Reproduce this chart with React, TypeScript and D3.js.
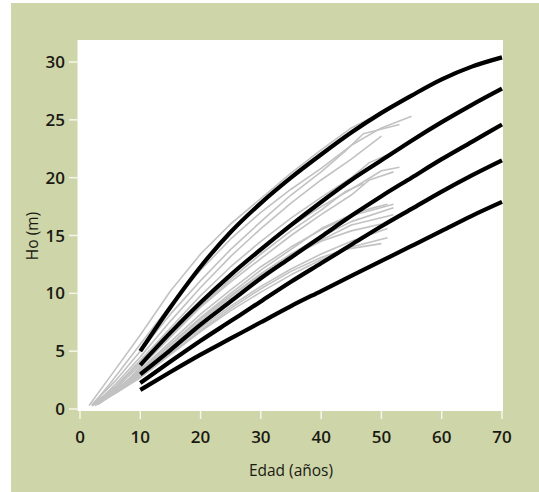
import React from "react";
import * as d3 from "d3";

const xTicks = [0, 10, 20, 30, 40, 50, 60, 70];
const yTicks = [0, 5, 10, 15, 20, 25, 30];

// Site index curves (black), heights at ages 10..70 every 5 years
const curveAges = [10, 15, 20, 25, 30, 35, 40, 45, 50, 55, 60, 65, 70];
const curve1 = [5.0, 8.8, 12.3, 15.3, 17.8, 20.0, 22.0, 23.9, 25.6, 27.1, 28.5, 29.6, 30.4];
const curve2 = [3.8, 6.6, 9.2, 11.6, 13.8, 15.9, 17.9, 19.8, 21.5, 23.2, 24.8, 26.3, 27.7];
const curve3 = [3.0, 5.1, 7.3, 9.3, 11.3, 13.1, 14.9, 16.7, 18.4, 20.0, 21.6, 23.1, 24.6];
const curve4 = [2.25, 4.1, 5.9, 7.6, 9.3, 11.0, 12.6, 14.2, 15.8, 17.3, 18.8, 20.2, 21.5];
const curve5 = [1.65, 3.2, 4.7, 6.1, 7.5, 8.9, 10.2, 11.5, 12.8, 14.1, 15.4, 16.7, 17.9];
const curves = [curve1, curve2, curve3, curve4, curve5];

// Observed stem analysis series (grey), [age, height]
const stemA1 = [[1.5, 0.3], [5, 2.8], [10, 6.4], [15, 10.2], [20, 13.4], [25, 16.0], [30, 18.2], [35, 20.4], [40, 22.4], [45, 24.3], [48, 25.1]];
const stemA2 = [[2, 0.3], [5, 2.2], [10, 5.6], [15, 9.0], [20, 12.0], [25, 14.7], [30, 17.0], [35, 19.0], [40, 20.8], [45, 22.8], [50, 24.3], [55, 25.3]];
const stemA3 = [[2, 0.4], [6, 2.5], [10, 5.0], [15, 8.2], [20, 11.1], [25, 13.8], [30, 16.2], [35, 18.5], [40, 20.5], [44, 22.3], [47, 23.8], [53, 24.6]];
const stemA4 = [[2.5, 0.4], [6, 2.2], [10, 4.5], [15, 7.6], [20, 10.5], [25, 13.2], [30, 15.6], [35, 17.8], [40, 19.8], [45, 21.6], [50, 23.6]];
const stemB1 = [[2, 0.3], [6, 2.0], [10, 4.2], [15, 7.0], [20, 9.8], [25, 12.3], [30, 14.5], [35, 16.5], [40, 18.3], [45, 20.0], [48, 21.3], [52, 22.2]];
const stemB2 = [[2, 0.4], [6, 1.9], [10, 4.0], [15, 6.6], [20, 9.2], [25, 11.6], [30, 13.8], [35, 15.8], [40, 17.5], [45, 19.0], [50, 20.6], [53, 20.9]];
const stemB3 = [[3, 0.4], [7, 2.0], [10, 3.6], [15, 6.2], [20, 8.8], [25, 11.0], [30, 13.0], [35, 15.0], [40, 16.8], [45, 18.5], [48, 19.8], [52, 20.5]];
const stemB4 = [[2, 0.3], [6, 1.8], [10, 3.8], [15, 6.4], [20, 8.9], [25, 11.2], [30, 13.4], [35, 15.4], [40, 17.2], [44, 18.8], [47, 19.5]];
const stemC1 = [[2, 0.3], [6, 1.7], [10, 3.4], [15, 5.8], [20, 8.2], [25, 10.3], [30, 12.3], [35, 14.0], [40, 15.5], [45, 16.7], [52, 17.7]];
const stemC2 = [[2.5, 0.4], [6, 1.6], [10, 3.2], [15, 5.5], [20, 7.8], [25, 9.8], [30, 11.7], [35, 13.4], [40, 14.9], [45, 16.2], [52, 17.4]];
const stemC3 = [[2, 0.3], [6, 1.6], [10, 3.3], [15, 5.6], [20, 7.9], [25, 10.0], [30, 12.0], [35, 13.8], [40, 15.6], [45, 16.8], [48, 17.3], [51, 17.7]];
const stemC4 = [[3, 0.4], [7, 1.8], [10, 3.0], [15, 5.2], [20, 7.4], [25, 9.5], [30, 11.4], [35, 13.2], [40, 14.6], [45, 15.9], [52, 16.8]];
const stemC5 = [[2, 0.3], [6, 1.5], [10, 3.1], [15, 5.3], [20, 7.6], [25, 9.7], [30, 11.6], [35, 13.2], [40, 14.5], [45, 15.4], [50, 16.0]];
const stemD1 = [[2, 0.3], [6, 1.5], [10, 2.9], [15, 5.0], [20, 7.0], [25, 8.9], [30, 10.6], [35, 12.1], [40, 13.4], [45, 14.5], [51, 15.6]];
const stemD2 = [[2.5, 0.3], [6, 1.4], [10, 2.7], [15, 4.7], [20, 6.7], [25, 8.5], [30, 10.1], [35, 11.6], [40, 12.9], [45, 14.0], [51, 14.8]];
const stemD3 = [[2, 0.4], [6, 1.4], [10, 2.8], [15, 4.8], [20, 6.8], [25, 8.7], [30, 10.4], [35, 11.9], [40, 13.1], [44, 13.8], [50, 14.3]];
const stems = [stemA1, stemA2, stemA3, stemA4, stemB1, stemB2, stemB3, stemB4, stemC1, stemC2, stemC3, stemC4, stemC5, stemD1, stemD2, stemD3];

const W = 539;
const H = 492;

export default function App() {
  const x = d3.scaleLinear().domain([0, 70]).range([80, 502]);
  const y = d3.scaleLinear().domain([0, 30]).range([409, 62]);
  const stemLine = d3
    .line<number[]>()
    .x((d) => x(d[0]))
    .y((d) => y(d[1]));
  const curveLine = d3
    .line<number>()
    .x((_, i) => x(curveAges[i]))
    .y((d) => y(d))
    .curve(d3.curveMonotoneX);
  const font = "'Open Sans', sans-serif";
  const textColor = "#1a1a12";
  return (
    <svg width={W} height={H} style={{ position: "absolute", left: 0, top: 0, background: "#fff" }}>
      <rect x={11} y={3} width={W - 11} height={H - 3} fill="#cdd5a9" />
      <rect x={77.5} y={40} width={425.5} height={371} fill="#ffffff" />
      {xTicks.map((t) => (
        <line key={"xt" + t} x1={x(t)} x2={x(t)} y1={411} y2={419} stroke="#f4f6ea" strokeWidth={1.5} />
      ))}
      {yTicks.map((t) => (
        <line key={"yt" + t} x1={69} x2={77.5} y1={y(t)} y2={y(t)} stroke="#f4f6ea" strokeWidth={1.5} />
      ))}
      <g>
        {stems.map((s, i) => (
          <path key={"s" + i} d={stemLine(s) || ""} fill="none" stroke="#c2c2c2" strokeWidth={1.6} strokeLinejoin="round" />
        ))}
        {curves.map((c, i) => (
          <path key={"c" + i} d={curveLine(c) || ""} fill="none" stroke="#000" strokeWidth={4.2} strokeLinecap="butt" />
        ))}
      </g>
      {xTicks.map((t) => (
        <text key={"xl" + t} x={x(t)} y={443} textAnchor="middle" fontFamily={font} fontSize={17} fontWeight={600} fill={textColor}>
          {t}
        </text>
      ))}
      {yTicks.map((t) => (
        <text key={"yl" + t} x={65} y={y(t) + 6} textAnchor="end" fontFamily={font} fontSize={17} fontWeight={600} fill={textColor}>
          {t}
        </text>
      ))}
      <text x={291} y={476} textAnchor="middle" fontFamily={font} fontSize={15.5} fontWeight={500} fill={textColor}>
        Edad (años)
      </text>
      <text
        transform={`translate(38,${236}) rotate(-90)`}
        textAnchor="middle"
        fontFamily={font}
        fontSize={15.5}
        fontWeight={500}
        fill={textColor}
      >
        Ho (m)
      </text>
    </svg>
  );
}
